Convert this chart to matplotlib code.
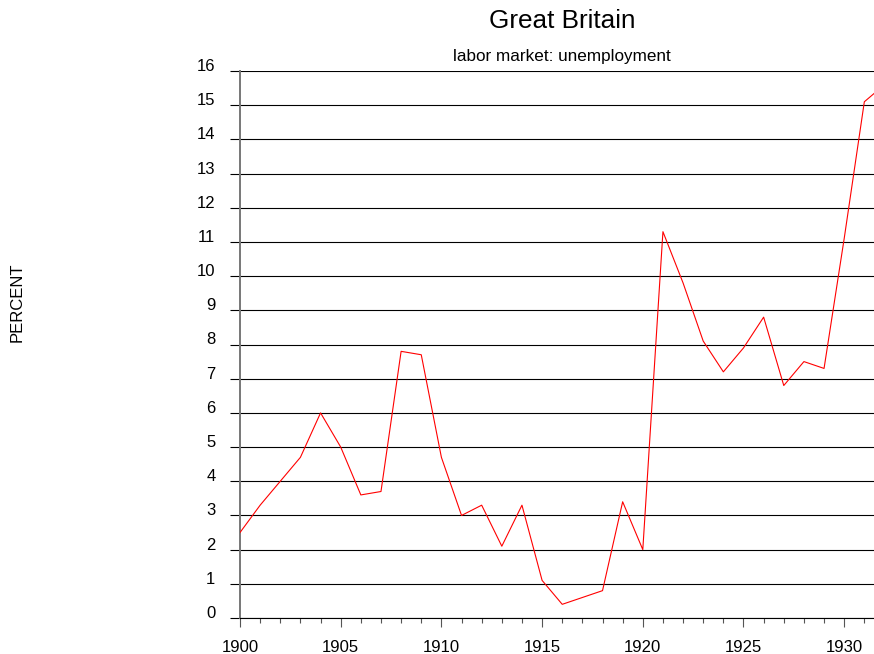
import matplotlib
matplotlib.use('Agg')
import matplotlib.pyplot as plt
from matplotlib.ticker import MultipleLocator

plt.rcParams['font.family'] = ['Liberation Sans', 'DejaVu Sans']

years = list(range(1900, 1933))
unemployment = [2.5, 3.3, 4.0, 4.7, 6.0, 5.0, 3.6, 3.7, 7.8, 7.7,
                4.7, 3.0, 3.3, 2.1, 3.3, 1.1, 0.4, 0.6, 0.8, 3.4,
                2.0, 11.3, 9.8, 8.1, 7.2, 7.9, 8.8, 6.8, 7.5, 7.3,
                11.1, 15.1, 15.6]
y_ticks = list(range(0, 17))
x_ticks = [1900, 1905, 1910, 1915, 1920, 1925, 1930]

fig = plt.figure(figsize=(8.74, 6.54), dpi=100)
ax = fig.add_axes([240 / 874, 36 / 654, 634 / 874, 547 / 654])

# horizontal grid at every percent
for v in y_ticks:
    ax.axhline(v, color='black', lw=0.8, zorder=1)

ax.plot(years, unemployment, color='red', lw=0.8, zorder=3, clip_on=True)

ax.set_xlim(1900, 1931.48)
ax.set_ylim(0, 16)

ax.set_yticks(y_ticks)
ax.set_yticklabels([str(v) for v in y_ticks])
ax.xaxis.set_major_locator(MultipleLocator(5))
ax.xaxis.set_minor_locator(MultipleLocator(1))
ax.set_xticks(x_ticks)

for s in ['top', 'right']:
    ax.spines[s].set_visible(False)
ax.spines['left'].set_color('#777777')
ax.spines['left'].set_linewidth(1.4)
ax.spines['left'].set_bounds(0, 16)
ax.spines['bottom'].set_color('black')
ax.spines['bottom'].set_linewidth(0.8)

ax.tick_params(axis='y', length=7.2, width=0.8, color='black', pad=10.5, labelsize=12)
ax.tick_params(axis='x', which='major', length=6.5, width=0.8, color='#555555', pad=9.5, labelsize=12)
ax.tick_params(axis='x', which='minor', length=3.8, width=0.8, color='#555555')

# labels sit on top of their gridline
for lab in ax.get_yticklabels():
    lab.set_va('baseline')

fig.text(562 / 874, 1 - 28.5 / 654, 'Great Britain', ha='center', va='baseline', fontsize=18.8)
fig.text(562 / 874, 1 - 60.5 / 654, 'labor market: unemployment', ha='center', va='baseline', fontsize=12.3)
fig.text(17 / 874, 1 - 302 / 654, 'PERCENT', rotation=90, ha='center', va='center', fontsize=12)

fig.savefig('out.png', dpi=100)
